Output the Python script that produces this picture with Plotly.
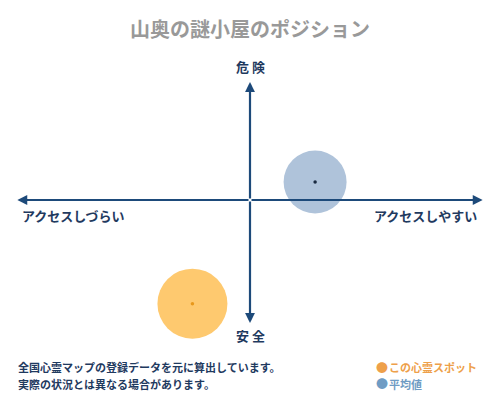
import plotly.graph_objects as go

# positions on a -1..1 scale (x: access, y: danger)
series_names = ["この心霊スポット", "平均値"]
series_x = [-0.245, 0.277]
series_y = [-0.864, 0.15]
series_colors = ["#fec96f", "#afc3da"]
center_colors = ["#e8981c", "#1a2a40"]
legend_colors = ["#eea04a", "#6f9cc4"]

axis_labels = {
    "top": "危 険",
    "bottom": "安 全",
    "left": "アクセスしづらい",
    "right": "アクセスしやすい",
}
title_text = "山奥の謎小屋のポジション"
note_lines = ["全国心霊マップの登録データを元に算出しています。", "実際の状況とは異なる場合があります。"]

FONT = "Noto Sans CJK JP"
NAVY = "#1d4a7a"
LABEL = "#1f3a5f"

# the page puts the figure 8px in from the corner
OFF = 8
W, H = 500 - OFF, 400 - OFF
PL, PR, PT, PB = 15, 485, 80, 320  # plot area in page pixels


def px(x, y):
    """page pixel -> paper coords of the plot area"""
    return (x - PL) / (PR - PL), (PB - y) / (PB - PT)


fig = go.Figure()

sizes = [70, 63]
for name, x, y, col, ccol, sz in zip(series_names, series_x, series_y, series_colors, center_colors, sizes):
    fig.add_trace(
        go.Scatter(
            x=[x], y=[y], mode="markers", name=name, showlegend=False, cliponaxis=False,
            marker=dict(size=sz, color=col, line=dict(width=0)),
            hoverinfo="skip",
        )
    )
    fig.add_trace(
        go.Scatter(
            x=[x], y=[y], mode="markers", showlegend=False, cliponaxis=False,
            marker=dict(size=3.5, color=ccol, symbol="circle"),
            hoverinfo="skip",
        )
    )

annotations = []
# axis arrows (from the origin out to each end)
for tx, ty in [(0.99, 0), (-0.99, 0), (0, 0.983), (0, -1.025)]:
    annotations.append(
        dict(
            x=tx, y=ty, ax=0, ay=0, xref="x", yref="y", axref="x", ayref="y",
            text="", showarrow=True, arrowhead=2, arrowsize=0.9,
            arrowwidth=2.2, arrowcolor=NAVY, standoff=0,
        )
    )


def note(x, y, text, font, xanchor="center"):
    nx, ny = px(x, y)
    return dict(x=nx, y=ny, xref="paper", yref="paper", showarrow=False,
                xanchor=xanchor, yanchor="middle", text=text, font=font)


lab_font = dict(family=FONT, size=13, color=LABEL)
for key, (lx, ly) in [("top", (250, 67)), ("bottom", (250, 335)), ("left", (73, 215)), ("right", (425, 215))]:
    annotations.append(note(lx, ly, "<b>" + axis_labels[key] + "</b>", lab_font))

# footer notes
for i, line in enumerate(note_lines):
    annotations.append(
        note(16, 367 + 16.5 * i, "<b>" + line + "</b>",
             dict(family=FONT, size=11, color=LABEL), xanchor="left")
    )

# legend
for i, (name, col) in enumerate(zip(series_names, legend_colors)):
    annotations.append(note(382, 367 + 16.5 * i, "●", dict(family=FONT, size=12, color=col)))
    annotations.append(
        note(387, 367 + 16.5 * i, "<b>" + name + "</b>",
             dict(family=FONT, size=11, color=col), xanchor="left")
    )

fig.update_layout(
    width=W,
    height=H,
    margin=dict(l=PL - OFF, r=W - (PR - OFF), t=PT - OFF, b=H - (PB - OFF)),
    paper_bgcolor="white",
    plot_bgcolor="white",
    title=dict(
        text="<b>" + title_text + "</b>", x=(250 - OFF) / W, y=1 - (30 - OFF) / H,
        xref="container", yref="container", xanchor="center", yanchor="middle",
        font=dict(family=FONT, size=20, color="#999999"),
    ),
    xaxis=dict(range=[-1, 1], visible=False, fixedrange=True),
    yaxis=dict(range=[-1, 1], visible=False, fixedrange=True),
    annotations=annotations,
    showlegend=False,
)

fig.write_html("out.html")
